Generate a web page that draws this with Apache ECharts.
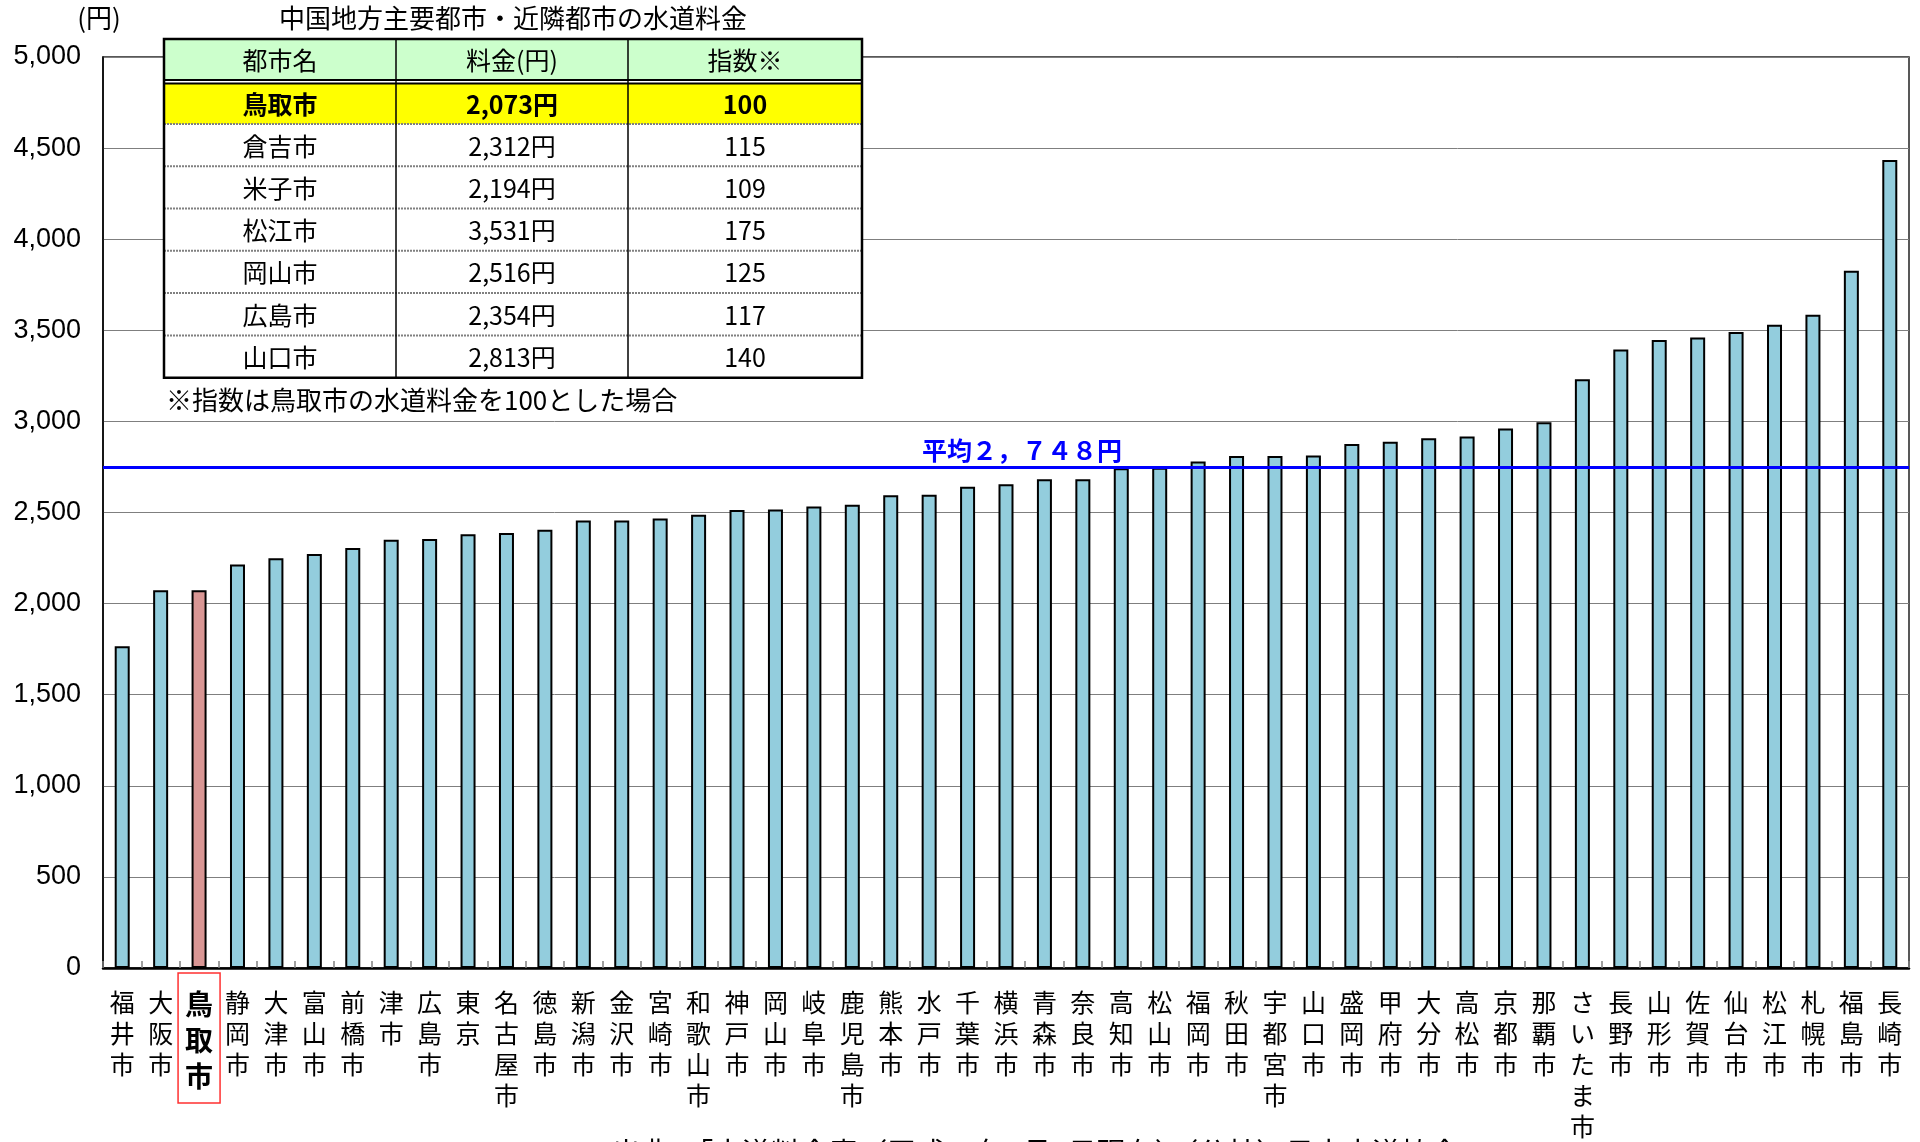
<!DOCTYPE html>
<html lang="ja">
<head>
<meta charset="utf-8">
<title>中国地方主要都市・近隣都市の水道料金</title>
<script src="https://cdn.jsdelivr.net/npm/echarts@6/dist/echarts.min.js"></script>
<style>
  html, body { margin: 0; padding: 0; background: #fff; }
  #chart { width: 1920px; height: 1142px; }
</style>
</head>
<body>
<div id="chart"></div>
<script>
// 都市別の水道料金（円）
const cities = [
  '福井市', '大阪市', '鳥取市', '静岡市', '大津市', '富山市', '前橋市', '津市', '広島市', '東京',
  '名古屋市', '徳島市', '新潟市', '金沢市', '宮崎市', '和歌山市', '神戸市', '岡山市', '岐阜市', '鹿児島市',
  '熊本市', '水戸市', '千葉市', '横浜市', '青森市', '奈良市', '高知市', '松山市', '福岡市', '秋田市',
  '宇都宮市', '山口市', '盛岡市', '甲府市', '大分市', '高松市', '京都市', '那覇市', 'さいたま市', '長野市',
  '山形市', '佐賀市', '仙台市', '松江市', '札幌市', '福島市', '長崎市'
];
const fees = [
  1766, 2073, 2073, 2215, 2249, 2272, 2305, 2350, 2354, 2381,
  2387, 2406, 2456, 2456, 2467, 2487, 2514, 2516, 2533, 2542,
  2594, 2598, 2642, 2655, 2682, 2682, 2743, 2745, 2780, 2810,
  2810, 2813, 2876, 2888, 2908, 2917, 2961, 2996, 3231, 3394,
  3447, 3460, 3491, 3531, 3585, 3827, 4435
];
const highlightCity = '鳥取市';
const averageFee = 2748;

// 縦軸の目盛
const yMin = 0;
const yMax = 5000;
const yStep = 500;

// 中国地方主要都市・近隣都市の一覧表
const tableHeaders = ['都市名', '料金(円)', '指数※'];
const tableCities = ['鳥取市', '倉吉市', '米子市', '松江市', '岡山市', '広島市', '山口市'];
const tableFees = ['2,073円', '2,312円', '2,194円', '3,531円', '2,516円', '2,354円', '2,813円'];
const tableIndex = ['100', '115', '109', '175', '125', '117', '140'];

const titleText = '中国地方主要都市・近隣都市の水道料金';
const unitText = '(円)';
const noteText = '※指数は鳥取市の水道料金を100とした場合';
const sourceText = '出典：「水道料金表（平成27年4月1日現在）（公社）日本水道協会」';

const JP = '"Noto Sans CJK JP", "Noto Sans", sans-serif';
const NUM = '"Liberation Sans", Arial, sans-serif';

function toFullWidth(s) {
  return s.replace(/[0-9,]/g, c => c === ',' ? '，' : String.fromCharCode(c.charCodeAt(0) + 0xFEE0));
}

const chart = echarts.init(document.getElementById('chart'), null, { renderer: 'canvas' });

const xData = cities.map(name => {
  if (name !== highlightCity) return name;
  return {
    value: name,
    textStyle: {
      fontWeight: 'bold',
      fontSize: 28,
      lineHeight: 36,
      borderColor: '#ff3030',
      borderWidth: 1.5,
      padding: [13, 7, 9, 7]
    }
  };
});

const barData = fees.map((v, i) => cities[i] === highlightCity
  ? { value: v, itemStyle: { color: '#D99694' } }
  : v);

// 一覧表の図形
const colX = [164, 396, 628, 862];
const tTop = 39;
const headBottom = 80;
const firstRowTop = 83.5;
const firstRowBottom = 124;
const rowStep = 42.28;
const tBottom = firstRowBottom + rowStep * (tableCities.length - 1);

const g = [];
g.push({ type: 'rect', shape: { x: colX[0], y: tTop, width: colX[3] - colX[0], height: tBottom - tTop }, style: { fill: '#fff' }, z: 100 });
g.push({ type: 'rect', shape: { x: colX[0], y: tTop, width: colX[3] - colX[0], height: headBottom - tTop }, style: { fill: '#CCFFCC' }, z: 101 });
g.push({ type: 'rect', shape: { x: colX[0], y: firstRowTop, width: colX[3] - colX[0], height: firstRowBottom - firstRowTop }, style: { fill: '#FFFF00' }, z: 101 });
// 見出し下の二重線
[headBottom, firstRowTop].forEach(y => g.push({
  type: 'line', shape: { x1: colX[0], y1: y, x2: colX[3], y2: y },
  style: { stroke: '#000', lineWidth: 1.8 }, z: 103
}));
// 行の区切り（点線）
for (let i = 0; i < tableCities.length - 1; i++) {
  const y = firstRowBottom + rowStep * i;
  g.push({
    type: 'line', shape: { x1: colX[0], y1: y, x2: colX[3], y2: y },
    style: { stroke: '#808080', lineWidth: 2, lineDash: [2, 1] }, z: 102
  });
}
// 列の区切り
[colX[1], colX[2]].forEach(x => g.push({
  type: 'line', shape: { x1: x, y1: tTop, x2: x, y2: tBottom },
  style: { stroke: '#000', lineWidth: 1.5 }, z: 103
}));
// 外枠
g.push({ type: 'rect', shape: { x: colX[0], y: tTop, width: colX[3] - colX[0], height: tBottom - tTop }, style: { fill: null, stroke: '#000', lineWidth: 2.5 }, z: 104 });

function cellText(text, col, yc, bold) {
  return {
    type: 'text', z: 105,
    style: {
      text, x: (colX[col] + colX[col + 1]) / 2, y: yc,
      textAlign: 'center', textVerticalAlign: 'middle', align: 'center', verticalAlign: 'middle',
      fill: '#000', fontSize: 25, fontFamily: JP, fontWeight: bold ? 'bold' : 'normal'
    }
  };
}
tableHeaders.forEach((h, c) => g.push(cellText(h, c, (tTop + headBottom) / 2 + 1, false)));
tableCities.forEach((name, r) => {
  const yc = r === 0 ? (firstRowTop + firstRowBottom) / 2 + 1
                     : firstRowBottom + rowStep * (r - 1) + rowStep / 2 + 1;
  const bold = r === 0;
  g.push(cellText(name, 0, yc, bold));
  g.push(cellText(tableFees[r], 1, yc, bold));
  g.push(cellText(tableIndex[r], 2, yc, bold));
});

function freeText(text, x, y, size, align, extra) {
  return {
    type: 'text', z: 105,
    style: Object.assign({
      text, x, y,
      textAlign: align, textVerticalAlign: 'middle', align, verticalAlign: 'middle',
      fill: '#000', fontSize: size, fontFamily: JP
    }, extra || {})
  };
}
g.push(freeText(unitText, 99, 18, 26, 'center'));
g.push(freeText(titleText, 513, 18, 26, 'center'));
g.push(freeText(noteText, 166, 400, 26, 'left'));
g.push(freeText(sourceText, 1050, 1153, 29, 'center'));

const option = {
  animation: false,
  backgroundColor: '#fff',
  grid: {
    left: 103, right: 11, top: 57, bottom: 170,
    show: true, borderColor: '#222', borderWidth: 1.5, backgroundColor: 'transparent'
  },
  xAxis: {
    type: 'category',
    data: xData,
    boundaryGap: true,
    axisLine: { show: true, lineStyle: { color: '#000', width: 2.5 } },
    axisTick: { show: true, inside: true, length: 7, lineStyle: { color: '#808080', width: 1.5 } },
    axisLabel: {
      interval: 0,
      margin: 5,
      padding: [14, 0, 0, 0],
      color: '#000',
      fontFamily: JP,
      fontSize: 25,
      lineHeight: 31,
      formatter: v => v.split('').join('\n')
    },
    splitLine: { show: false }
  },
  yAxis: {
    type: 'value',
    min: yMin, max: yMax, interval: yStep,
    axisLine: { show: true, lineStyle: { color: '#000', width: 1.5 } },
    axisTick: { show: false },
    axisLabel: {
      margin: 22,
      color: '#000',
      fontFamily: NUM,
      fontSize: 27,
      formatter: v => v.toLocaleString('en-US')
    },
    splitLine: { show: true, lineStyle: { color: '#7f7f7f', width: 1 } }
  },
  series: [{
    type: 'bar',
    data: barData,
    barWidth: 15,
    itemStyle: { color: '#93CDDD', borderColor: '#000', borderWidth: 2 },
    markLine: {
      silent: true,
      symbol: ['none', 'none'],
      lineStyle: { color: '#0000FF', width: 3, type: 'solid' },
      label: {
        show: true,
        position: 'middle',
        distance: 4,
        padding: [0, 0, 0, 32],
        color: '#0000FF',
        fontWeight: 'bold',
        fontSize: 25,
        fontFamily: JP,
        formatter: p => '平均' + toFullWidth(p.value.toLocaleString('en-US')) + '円'
      },
      data: [{ yAxis: averageFee }]
    }
  }],
  graphic: g
};

chart.setOption(option);
</script>
</body>
</html>
